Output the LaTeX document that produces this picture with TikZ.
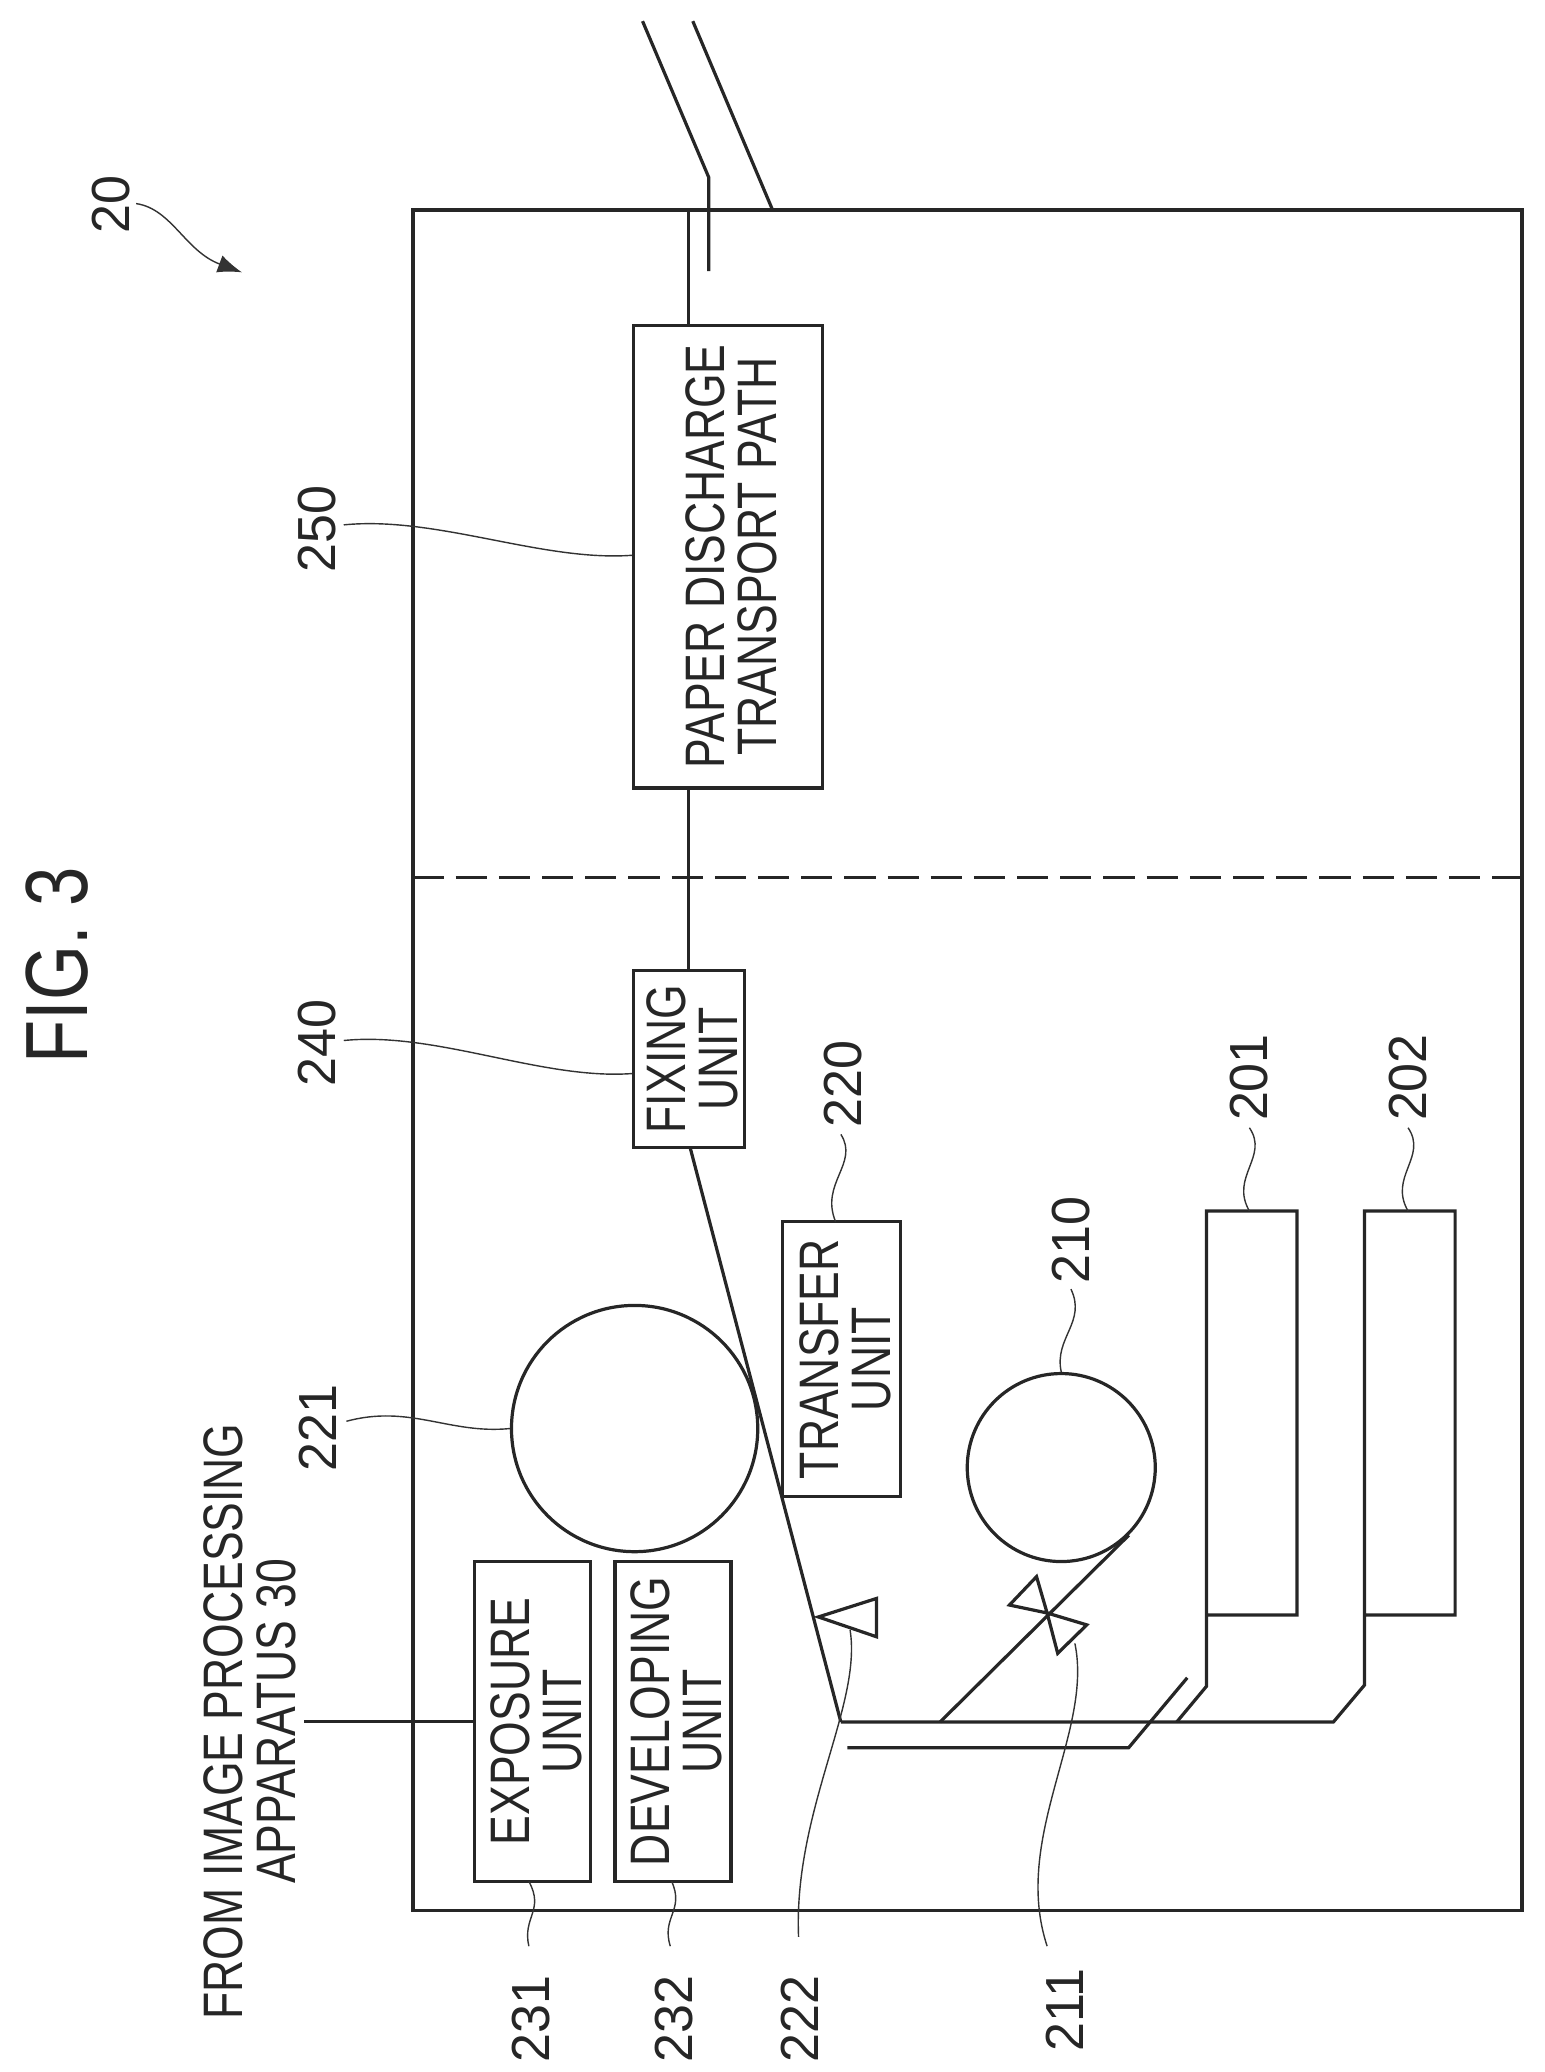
\documentclass[tikz,border=0pt]{standalone}
\usepackage{fontspec}
\setmainfont[FakeStretch=0.8]{Liberation Sans}
\newfontfamily\numfont[FakeStretch=0.97]{Liberation Sans}
\usetikzlibrary{arrows.meta,shapes.geometric}
\newcommand{\tl}{\rule{0pt}{23pt}}
\tikzset{
  x=0.6582pt,y=-0.6582pt,
  ln/.style={line width=1.6pt,black!85},
  lead/.style={line width=0.7pt,black!80},
  boxn/.style={draw,ln,rotate=90,inner sep=0pt,align=center,text=black!85,
    font=\fontsize{27.7}{26}\selectfont},
  lbl/.style={rotate=90,inner sep=0pt,text=black!85,align=center,
    font=\fontsize{27.7}{26}\selectfont},
  num/.style={rotate=90,inner sep=0pt,text=black!85,
    font=\numfont\fontsize{26.7}{30}\selectfont},
}
\begin{document}
\begin{tikzpicture}
\useasboundingbox (0,0) rectangle (1168.2,1567.2);
% outer frame
\node[draw,ln,rotate=90,inner sep=0pt,minimum width=846.4pt,minimum height=552.1pt] (outer) at (731.8,801.8) {};
% units
\node[boxn,minimum width=230.4pt,minimum height=94.1pt] (paper) at (550.5,421) {\tl PAPER DISCHARGE\\TRANSPORT PATH};
\node[boxn,minimum width=88.2pt,minimum height=55.2pt] (fix) at (521,801) {\tl FIXING\\UNIT};
\node[boxn,minimum width=136.9pt,minimum height=58.5pt] (transfer) at (636.5,1028) {\tl TRANSFER\\UNIT};
\node[boxn,minimum width=159.3pt,minimum height=57.8pt] (expo) at (403,1302) {\tl EXPOSURE\\UNIT};
\node[boxn,minimum width=159.3pt,minimum height=57.8pt] (devel) at (509,1302) {\tl DEVELOPING\\UNIT};
% rollers
\node[draw,ln,circle,inner sep=0pt,minimum size=122.6pt] (drum) at (480,1080.5) {};
\node[draw,ln,circle,inner sep=0pt,minimum size=93.6pt] (feed) at (802.7,1110) {};
% trays
\coordinate (a1) at (912.5,916); \coordinate (a2) at (981,916);
\coordinate (a3) at (981,1221.6); \coordinate (a4) at (912.5,1221.6);
\coordinate (a5) at (912.5,1275.5); \coordinate (a6) at (890,1302.5);
\coordinate (b1) at (1032,916); \coordinate (b2) at (1100.6,916);
\coordinate (b3) at (1100.6,1221.6); \coordinate (b4) at (1032,1221.6);
\coordinate (b5) at (1032,1274.6); \coordinate (b6) at (1008.5,1302.5);
\coordinate (p0) at (636,1302.5);
\coordinate (q0) at (641,1322); \coordinate (q1) at (853.6,1322); \coordinate (q2) at (898,1269);
\draw[ln] (a4) -- (a3) -- (a2) -- (a1) -- (a5) -- (a6);
\draw[ln] (b4) -- (b3) -- (b2) -- (b1) -- (b5) -- (b6) -- (p0);
\draw[ln] (q0) -- (q1) -- (q2);
% paper path
\coordinate (fb) at (522,868);
\draw[ln] (p0) -- (fb);
\coordinate (fxt) at (521,734);
\coordinate (pb) at (521,596);
\coordinate (pt) at (521,246);
\coordinate (ot) at (521,158);
\draw[ln] (fxt) -- (pb);
\draw[ln] (pt) -- (ot);
\coordinate (u1) at (486,16); \coordinate (u2) at (536,134); \coordinate (u3) at (536,205);
\draw[ln] (u1) -- (u2) -- (u3);
\coordinate (v1) at (524,16); \coordinate (v2) at (584,158);
\draw[ln] (v1) -- (v2);
% branch from feed roller
\coordinate (br0) at (711,1302.5);
\draw[ln] (br0) -- (feed.south east);
% exposure input
\coordinate (in) at (230,1302);
\draw[ln] (in) -- (expo.north);
% divider
\coordinate (dl) at (312,664); \coordinate (dr) at (1150,664);
\draw[ln,dash pattern=on 15.5pt off 6pt] (dl) -- (dr);
% valve and sensor
\coordinate (vc) at (792,1220);
\draw[ln] (vc) -- (763.5,1214) -- (784,1192.5) -- cycle;
\draw[ln] (vc) -- (800,1250.5) -- (822,1229) -- cycle;
\draw[ln] (619,1223) -- (663,1209) -- (663,1238) -- cycle;
% labels
\node[lbl,font=\fontsize{44}{50}\selectfont] (title) at (43,730) {FIG. 3};
\node[lbl] (from) at (189,1302) {FROM IMAGE PROCESSING\\APPARATUS 30};
\node[num] (n20) at (84,155) {20};
\node[num] (n250) at (240,400) {250};
\node[num] (n240) at (240,789) {240};
\node[num] (n220) at (638,820) {220};
\node[num] (n221) at (240,1080) {221};
\node[num] (n210) at (810,938) {210};
\node[num] (n201) at (945,815) {201};
\node[num] (n202) at (1065,815) {202};
\node[num] (n231) at (402,1527) {231};
\node[num] (n232) at (510,1527) {232};
\node[num] (n222) at (605,1527) {222};
\node[num] (n211) at (805,1520) {211};
% leaders
\coordinate (s50) at (260,397); \coordinate (e50) at (478,420);
\draw[lead] (s50) .. controls (330,390) and (410,425) .. (e50);
\coordinate (s40) at (260,787); \coordinate (e40) at (478,812);
\draw[lead] (s40) .. controls (330,780) and (410,817) .. (e40);
\coordinate (s20) at (636,858); \coordinate (e20) at (632,924);
\draw[lead] (s20) .. controls (650,880) and (620,895) .. (e20);
\coordinate (s21) at (262,1075);
\draw[lead] (s21) .. controls (310,1062) and (340,1085) .. (drum.west);
\coordinate (s10) at (810,975);
\draw[lead] (s10) .. controls (822,1000) and (797,1012) .. (feed.north);
\coordinate (s01) at (945,853); \coordinate (e01) at (945,916);
\draw[lead] (s01) .. controls (960,875) and (930,890) .. (e01);
\coordinate (s02) at (1065,853); \coordinate (e02) at (1065,916);
\draw[lead] (s02) .. controls (1080,875) and (1050,890) .. (e02);
\coordinate (s31) at (400,1472); \coordinate (e31) at (400,1423);
\draw[lead] (s31) .. controls (395,1450) and (412,1445) .. (e31);
\coordinate (s32) at (507,1472); \coordinate (e32) at (508,1423);
\draw[lead] (s32) .. controls (500,1450) and (518,1445) .. (e32);
\coordinate (s22) at (643,1233);
\coordinate (e22) at (604,1465);
\draw[lead] (s22) .. controls (652,1290) and (600,1370) .. (e22);
\coordinate (s11) at (813,1243);
\coordinate (e11) at (792,1472);
\draw[lead] (s11) .. controls (827,1310) and (765,1390) .. (e11);
\coordinate (s0) at (103,154);
\coordinate (t20) at (183,206);
\draw[lead,-{Latex[length=12pt,width=9pt]}] (s0) .. controls (130,158) and (140,190) .. (t20);
\end{tikzpicture}
\end{document}
